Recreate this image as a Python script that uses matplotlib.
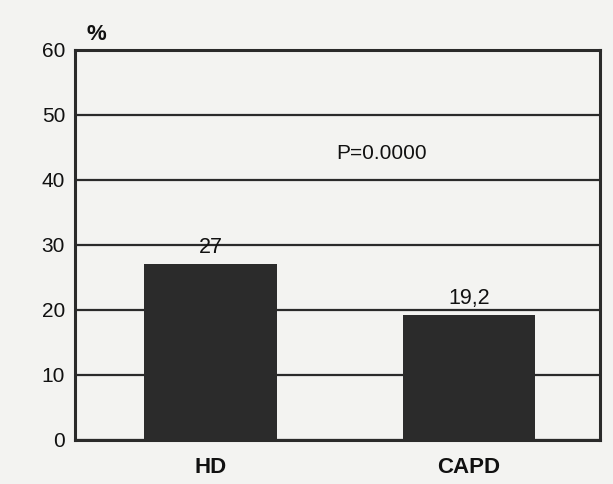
import matplotlib
matplotlib.use("Agg")
import matplotlib.pyplot as plt

# data
categories = ["HD", "CAPD"]
values = [27.0, 19.2]
value_labels = ["27", "19,2"]
y_ticks = [0, 10, 20, 30, 40, 50, 60]
p_text = "P=0.0000"

plt.rcParams['font.family'] = ['Liberation Sans', 'DejaVu Sans']

fig = plt.figure(figsize=(6.13, 4.84), dpi=100, facecolor="#f3f3f1")
ax = fig.add_axes([0.122, 0.091, 0.857, 0.806])
ax.set_facecolor("#f3f3f1")

x = list(range(len(categories)))
ax.bar(x, values, width=0.515, color="#2b2b2b", zorder=3)

ax.set_ylim(0, 60)
ax.set_xlim(-0.527, 1.508)
ax.set_yticks(y_ticks)
ax.set_yticklabels([str(t) for t in y_ticks], fontsize=15, color="#111111")
ax.yaxis.grid(True, color="#2a2a2a", linewidth=1.6, zorder=1)
ax.tick_params(axis="y", length=0, pad=7)

ax.set_xticks(x)
ax.set_xticklabels(categories, fontsize=16, fontweight="bold", color="#111111",
                   family=['Liberation Sans Narrow', 'Liberation Sans', 'DejaVu Sans'])
ax.tick_params(axis="x", length=0, pad=12)

for s in ax.spines.values():
    s.set_linewidth(2.2)
    s.set_color("#2a2a2a")

# value labels above bars
for xi, v, lab in zip(x, values, value_labels):
    ax.text(xi, v + 1.0, lab, ha="center", va="bottom", fontsize=15.5, color="#111111")

ax.text(0.66, 42.6, p_text, ha="center", va="bottom", fontsize=15, color="#111111")
ax.text(-0.48, 60.8, "%", ha="left", va="bottom", fontsize=16, fontweight="bold",
        color="#111111", clip_on=False)

fig.savefig("out.png", dpi=100, facecolor=fig.get_facecolor())
